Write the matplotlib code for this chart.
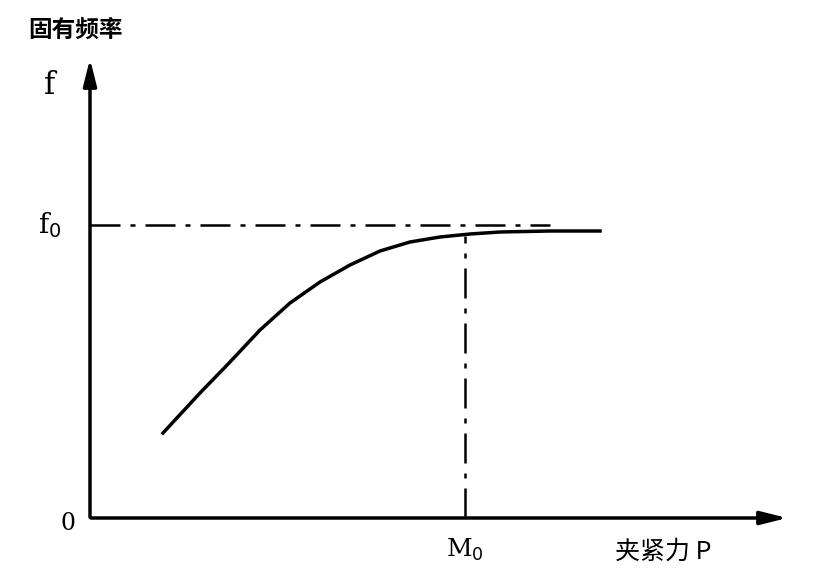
import matplotlib
matplotlib.use("Agg")
import matplotlib.pyplot as plt

# data (x: clamping force, y: natural frequency, arbitrary units)
P = [73, 110, 140, 170, 200, 230, 260, 290, 320, 350, 380, 410, 460, 510]
F = [85, 125, 156, 188, 215, 236, 253, 267, 276, 281, 284, 286, 287, 287]
f0 = 293
M0 = 375
x_dash_end = 460

plt.rcParams['font.family'] = ['Noto Sans CJK SC', 'DejaVu Sans']
fig = plt.figure(figsize=(8.27, 5.78), dpi=100)
ax = fig.add_axes([0, 0, 1, 1])
ax.set_xlim(-90, 737)
ax.set_ylim(-60, 518)
ax.axis('off')

ax.plot(P, F, color='black', lw=2.5)
ax.plot([0, x_dash_end], [f0, f0], color='black', lw=1.8, linestyle='-.', dashes=(12, 4, 2, 4))
ax.plot([M0, M0], [0, F[10] - 2], color='black', lw=1.8, linestyle='-.', dashes=(12, 4, 2, 4))

ax.annotate('', xy=(700, 0), xytext=(-2, 0),
            arrowprops=dict(arrowstyle='-|>,head_length=1.6,head_width=0.4', color='black', lw=2.5))
ax.annotate('', xy=(0, 462), xytext=(0, -2),
            arrowprops=dict(arrowstyle='-|>,head_length=1.6,head_width=0.4', color='black', lw=2.5))

ax.text(-62, 488, '固有频率', fontsize=17, fontweight='bold', ha='left', va='center')
ax.text(-40, 433, 'f', fontsize=22, family='DejaVu Serif', ha='center', va='center')
ax.text(-40, f0, 'f$_0$', fontsize=20, family='DejaVu Serif', ha='center', va='center')
ax.text(-22, -5, '0', fontsize=17, family='DejaVu Serif', ha='center', va='center')
ax.text(M0, -32, 'M$_0$', fontsize=18, family='DejaVu Serif', ha='center', va='center')
ax.text(525, -34, '夹紧力 P', fontsize=18, ha='left', va='center')

fig.savefig('out.png', dpi=100)
